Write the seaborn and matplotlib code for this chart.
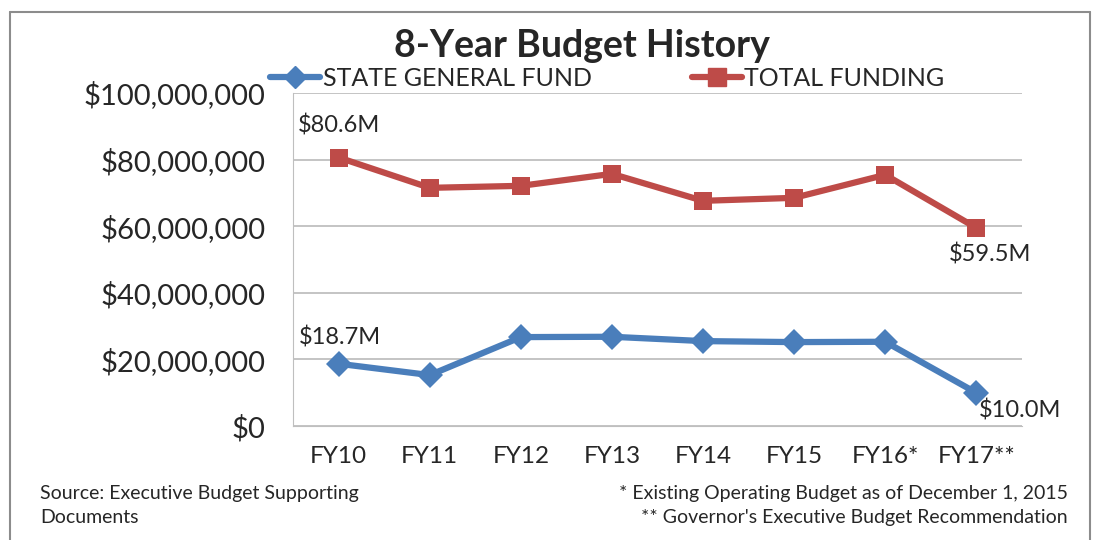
import seaborn as sns
import matplotlib.pyplot as plt
import pandas as pd
from matplotlib.lines import Line2D

# Values (dollars)
years = ['FY10', 'FY11', 'FY12', 'FY13', 'FY14', 'FY15', 'FY16*', 'FY17**']
state_general_fund = [18.7e6, 15.3e6, 26.7e6, 26.8e6, 25.5e6, 25.2e6, 25.3e6, 10.0e6]
total_funding = [80.6e6, 71.5e6, 72.1e6, 75.7e6, 67.6e6, 68.5e6, 75.4e6, 59.5e6]

blue = '#4A7EBB'
red = '#BE4B48'

df = pd.DataFrame({'Year': years * 2,
                   'Amount': state_general_fund + total_funding,
                   'Series': ['STATE GENERAL FUND'] * 8 + ['TOTAL FUNDING'] * 8})

sns.set_style('white')
plt.rcParams['font.family'] = ['Lato', 'DejaVu Sans']

fig = plt.figure(figsize=(10.94, 5.4), dpi=100)
ax = fig.add_axes([0.268, 0.211, 0.666, 0.617])

sns.lineplot(data=df, x='Year', y='Amount', hue='Series', style='Series',
             palette={'STATE GENERAL FUND': blue, 'TOTAL FUNDING': red},
             markers={'STATE GENERAL FUND': 'D', 'TOTAL FUNDING': 's'},
             dashes=False, sort=False, linewidth=4.5, markersize=13,
             markeredgewidth=0, legend=False, ax=ax)

ax.set_xlim(-0.5, len(years) - 0.5)
ax.set_ylim(0, 100e6)
ax.set_yticks(range(0, 100_000_001, 20_000_000))
ax.set_yticklabels([f'${v:,.0f}' for v in range(0, 100_000_001, 20_000_000)], fontsize=21)
ax.set_xticks(range(len(years)))
ax.set_xticklabels(years, fontsize=17.5)
ax.set_xlabel('')
ax.set_ylabel('')
ax.grid(axis='y', color='#BFBFBF', linewidth=1.3)
for s in ['top', 'right']:
    ax.spines[s].set_visible(False)
ax.spines['left'].set_color('#BFBFBF')
ax.spines['bottom'].set_color('#BFBFBF')
ax.tick_params(axis='x', length=0, pad=14)
ax.tick_params(axis='y', length=0, pad=20)
# minor ticks between categories
ax.set_xticks([i - 0.5 for i in range(len(years) + 1)], minor=True)
ax.tick_params(axis='x', which='minor', length=8, color='#BFBFBF', width=1.3, direction='out')

# Data labels
ax.annotate(f'${total_funding[0]/1e6:.1f}M', (0, total_funding[0]), xytext=(0, 18),
            textcoords='offset points', ha='center', fontsize=17)
ax.annotate(f'${total_funding[-1]/1e6:.1f}M', (7, total_funding[-1]), xytext=(10, -24),
            textcoords='offset points', ha='center', fontsize=17)
ax.annotate(f'${state_general_fund[0]/1e6:.1f}M', (0, state_general_fund[0]), xytext=(1, 14),
            textcoords='offset points', ha='center', fontsize=17)
ax.annotate(f'${state_general_fund[-1]/1e6:.1f}M', (7, state_general_fund[-1]), xytext=(2, -18),
            textcoords='offset points', ha='left', fontsize=17)

# Legend
handles = [Line2D([], [], color=blue, marker='D', linewidth=4.5, markersize=11),
           Line2D([], [], color=red, marker='s', linewidth=4.5, markersize=13)]
fig.legend(handles, ['STATE GENERAL FUND', 'TOTAL FUNDING'], loc='center',
           bbox_to_anchor=(0.555, 0.855), ncol=2, frameon=False, fontsize=18,
           handlelength=2.0, handletextpad=0.1, columnspacing=4.0)

fig.text(0.532, 0.915, '8-Year Budget History', ha='center', va='center',
         fontsize=27, fontweight='bold')

fig.text(0.037, 0.087, 'Source: Executive Budget Supporting', fontsize=14, va='center')
fig.text(0.037, 0.041, 'Documents', fontsize=14, va='center')
fig.text(0.976, 0.087, '* Existing Operating Budget as of December 1, 2015', fontsize=14,
         va='center', ha='right')
fig.text(0.976, 0.041, "** Governor's Executive Budget Recommendation", fontsize=14,
         va='center', ha='right')

# outer frame
fig.add_artist(Line2D([0.009, 0.009], [0, 0.978], color='#8C8C8C', linewidth=1.5))
fig.add_artist(Line2D([0.009, 0.996], [0.978, 0.978], color='#8C8C8C', linewidth=1.5))
fig.add_artist(Line2D([0.996, 0.996], [0, 0.978], color='#8C8C8C', linewidth=1.5))

fig.savefig('out.png', dpi=100)
